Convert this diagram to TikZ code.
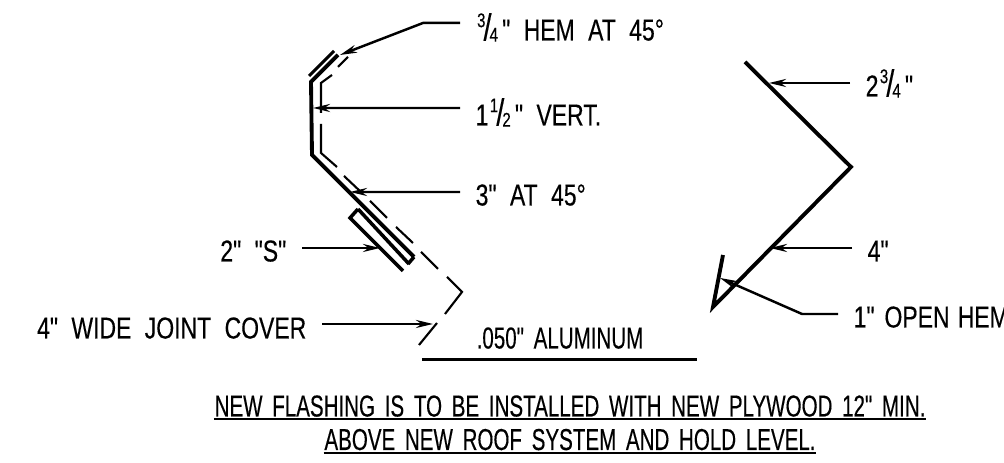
\documentclass[tikz,border=0pt]{standalone}
\usepackage{fontspec}
\newfontfamily\cadfont[FakeStretch=0.76,WordSpace=2.1,FakeBold=0.3]{Liberation Sans}
\newfontfamily\notefont[FakeStretch=0.68,WordSpace=1.7,FakeBold=0.3]{Liberation Sans}
\usetikzlibrary{arrows.meta}
\newcommand{\cadfrac}[2]{\kern0.4pt\raisebox{3.8pt}{\fontsize{5.6}{6}\selectfont #1}\kern0.6pt\makebox[0pt]{\scalebox{1.25}{/}}\kern0.6pt\raisebox{-0.3pt}{\fontsize{5.6}{6}\selectfont #2}\kern1.2pt}

\tikzset{
  lbl/.style={font=\cadfont\fontsize{8.6}{10}\selectfont, text height=0.21cm, text depth=0pt, inner ysep=0pt, inner xsep=0.15cm},
  note/.style={font=\notefont\fontsize{8.6}{10}\selectfont, text height=0.21cm, text depth=0pt, inner ysep=0.02cm, inner xsep=0pt},
  leader/.style={line width=0.7pt, -{Stealth[length=0.17cm,width=0.08cm]}},
  flash/.style={line width=1.1pt, line join=miter},
  lap/.style={line width=1pt, line join=miter},
  cover/.style={line width=0.6pt}
}

\begin{document}
\begin{tikzpicture}
    \useasboundingbox (0,0) rectangle (10.04,4.63);

    % flashing, left profile
    \draw[lap, line width=0.85pt] (3.34,4.12) -- (3.09,3.87);
    \draw[flash] (3.38,4.08) -- (3.11,3.81) -- (3.12,3.08) -- (4.14,2.06);
    \draw[lap] (4.14,2.06) -- (4.08,1.99);
    \draw[lap] (3.58,2.54) -- (3.50,2.45) -- (4.03,1.92);
    \draw[lap] (3.58,2.54) -- (4.09,1.99);

    % joint cover, dashes
    \draw[cover] (3.32,3.88) -- (3.21,3.80) -- (3.21,3.50);
    \draw[cover] (3.48,4.06) -- (3.38,3.96);
    \draw[cover] (3.21,3.39) -- (3.21,3.10) -- (3.37,2.96);
    \draw[cover] (3.44,2.87) -- (3.62,2.70);
    \draw[cover] (3.70,2.62) -- (3.87,2.45);
    \draw[cover] (3.96,2.36) -- (4.13,2.20);
    \draw[cover] (4.21,2.11) -- (4.38,1.94);
    \draw[cover] (4.47,1.86) -- (4.62,1.71) -- (4.45,1.49);
    \draw[cover] (4.37,1.40) -- (4.19,1.18);

    % flashing, right profile
    \draw[flash] (7.45,4.01) -- (8.51,2.96) -- (7.13,1.56) -- (7.23,2.08);

    \coordinate (tiphem) at (3.40,4.08);
    \coordinate (tipvert) at (3.13,3.55);
    \coordinate (tipdiag) at (3.50,2.71);
    \coordinate (tips) at (3.80,2.15);
    \coordinate (tipcover) at (4.33,1.39);
    \coordinate (tipupper) at (7.69,3.80);
    \coordinate (tiplower) at (7.70,2.15);
    \coordinate (tipopen) at (7.20,1.85);

    \node[lbl, anchor=west] (lblhem) at (4.60,4.33) {\cadfrac{3}{4}" HEM AT 45°};
    \node[lbl, anchor=west] (lblvert) at (4.60,3.48) {1\cadfrac{1}{2}" VERT.};
    \node[lbl, anchor=west] (lbldiag) at (4.60,2.68) {3" AT 45°};
    \node[lbl, anchor=east] (lbls) at (3.02,2.12) {2" "S"};
    \node[lbl, anchor=east] (lblcover) at (3.22,1.35) {4" WIDE JOINT COVER};
    \node[lbl, anchor=west] (lblupper) at (8.50,3.77) {2\cadfrac{3}{4}"};
    \node[lbl, anchor=west] (lbllower) at (8.52,2.12) {4"};
    \node[lbl, anchor=west] (lblopen) at (8.38,1.46) {1"\kern-1pt\ OPEN\kern-1.5pt\ HEM};
    \node[note] (metal) at (5.60,1.25) {.050" ALUMINUM};
    \node[note] (notea) at (5.70,0.57) {NEW FLASHING IS TO BE INSTALLED WITH NEW PLYWOOD 12" MIN.};
    \node[note] (noteb) at (5.70,0.235) {ABOVE NEW ROOF SYSTEM AND HOLD LEVEL.};

    \draw[leader] ([yshift=0.07cm]lblhem.west) -- ++(-0.37,0) -- (tiphem);
    \draw[leader] ([yshift=0.07cm]lblvert.west) -- (tipvert);
    \draw[leader] ([yshift=0.03cm]lbldiag.west) -- (tipdiag);
    \draw[leader] ([yshift=0.03cm]lbls.east) -- (tips);
    \draw[leader] ([yshift=0.04cm]lblcover.east) -- (tipcover);
    \draw[leader] ([yshift=0.03cm]lblupper.west) -- (tipupper);
    \draw[leader] ([yshift=0.03cm]lbllower.west) -- (tiplower);
    \draw[leader] ([yshift=0.03cm]lblopen.west) -- ++(-0.36,0) -- (tipopen);

    \draw[line width=0.85pt] ([xshift=-0.54cm,yshift=-0.08cm]metal.south west) -- ([xshift=0.53cm,yshift=-0.08cm]metal.south east);
    \draw[line width=0.6pt] (notea.south west) -- (notea.south east);
    \draw[line width=0.6pt] (noteb.south west) -- (noteb.south east);
\end{tikzpicture}
\end{document}
